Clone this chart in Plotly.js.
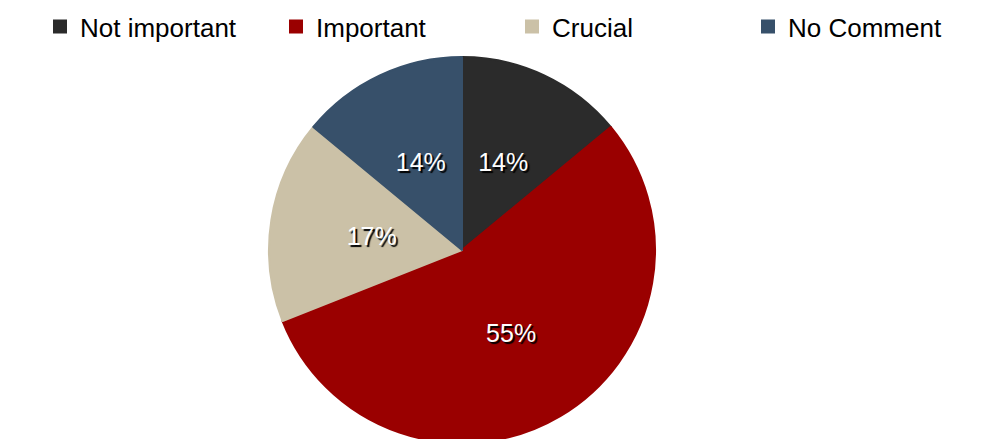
<!DOCTYPE html>
<html>
<head>
<meta charset="utf-8">
<script src="https://cdn.plot.ly/plotly-3.0.1.min.js"></script>
<style>
html, body { margin: 0; padding: 0; overflow: hidden; background: #fff; }
#chart { width: 984px; height: 443px; }
</style>
</head>
<body>
<div id="chart"></div>
<script>
const categories = ['Not important', 'Important', 'Crucial', 'No Comment'];
const shares = [14, 55, 17, 14];
const sliceColors = ['#2b2b2b', '#9a0000', '#cbc1a7', '#37506a'];

// layout geometry (not data)
const H = 443, W = 984;
const cx = 462 / W;           // pie centre, paper x
const cy = 1 - 250 / H;       // pie centre, paper y
const R = 193, Rlab = 138;    // outer radius; radius of the label ring

const labelFont = { family: 'Liberation Sans, Arial, sans-serif', size: 25, color: '#ffffff', shadow: '2px 2px 1px #000000' };

// main pie: shows the slices, the legend, and the label of the large slice
const mainPie = {
  type: 'pie',
  labels: categories,
  values: shares,
  sort: false,
  direction: 'clockwise',
  rotation: 0,
  marker: { colors: sliceColors, line: { width: 2, color: sliceColors } },
  texttemplate: '%{percent:.0%}',
  textposition: shares.map(v => v > 30 ? 'inside' : 'none'),
  insidetextorientation: 'horizontal',
  textfont: labelFont,
  hoverinfo: 'label+percent',
  domain: { x: [cx - 0.27, cx + 0.27], y: [cy - R / H, cy + R / H] }
};

// transparent twin pie: places the labels of the small slices nearer the centre
const labelPie = {
  type: 'pie',
  labels: categories,
  values: shares,
  sort: false,
  direction: 'clockwise',
  rotation: 0,
  showlegend: false,
  hoverinfo: 'skip',
  marker: { colors: categories.map(() => 'rgba(0,0,0,0)'), line: { width: 0 } },
  texttemplate: '%{percent:.0%}',
  textposition: shares.map(v => v > 30 ? 'none' : 'inside'),
  insidetextorientation: 'horizontal',
  textfont: labelFont,
  domain: { x: [cx - 0.2, cx + 0.2], y: [cy - Rlab / H, cy + Rlab / H] }
};

const layout = {
  width: W,
  height: H,
  margin: { l: 0, r: 0, t: 0, b: 0 },
  paper_bgcolor: '#ffffff',
  plot_bgcolor: '#ffffff',
  showlegend: true,
  legend: {
    orientation: 'h',
    x: 0.0488, xanchor: 'left',
    y: 0.993, yanchor: 'top',
    font: { family: 'Liberation Sans, Arial, sans-serif', size: 26, color: '#000000' },
    entrywidth: 191,
    entrywidthmode: 'pixels',
    traceorder: 'normal'
  }
};

Plotly.newPlot('chart', [mainPie, labelPie], layout, { displayModeBar: false, staticPlot: true });
</script>
</body>
</html>
